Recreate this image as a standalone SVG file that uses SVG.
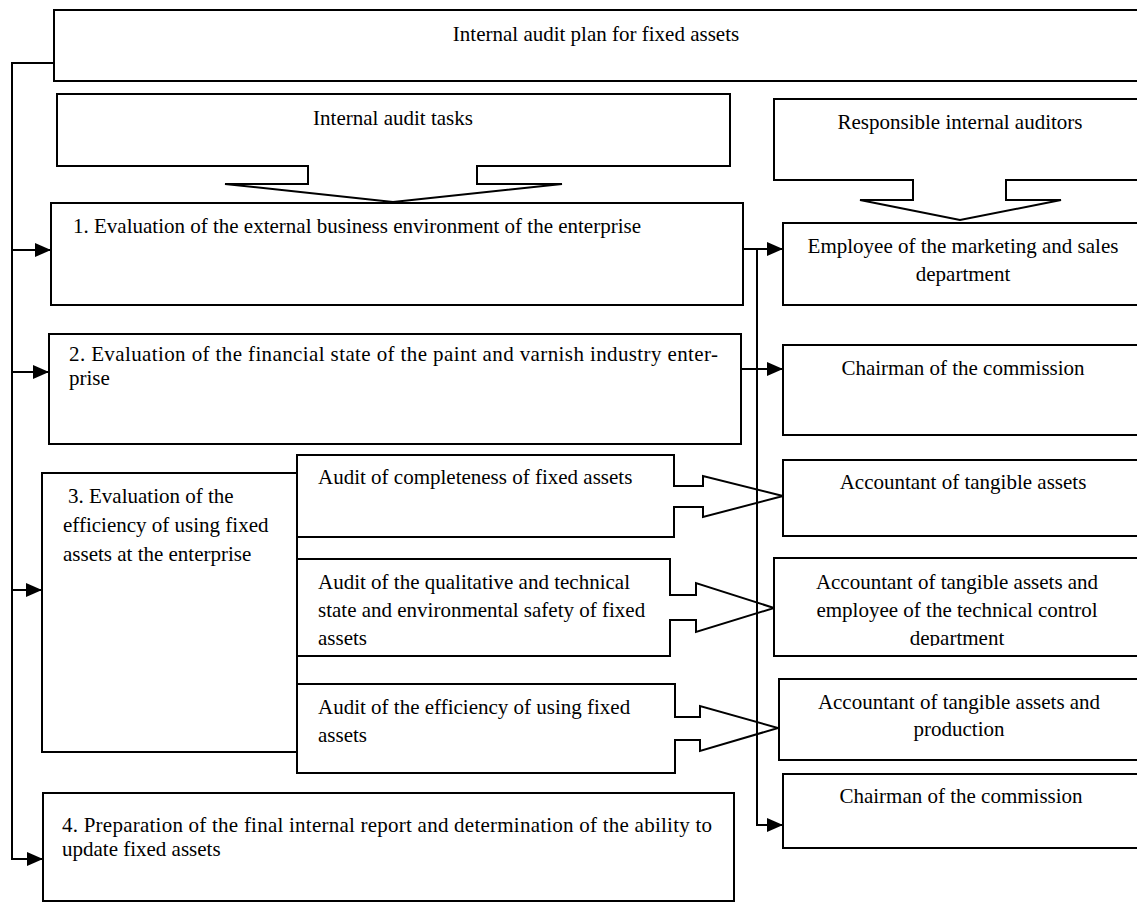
<svg xmlns="http://www.w3.org/2000/svg" width="1137" height="904" viewBox="0 0 1137 904">
<style>
.box{fill:#fff;stroke:#000;stroke-width:2}
.conn{fill:none;stroke:#000;stroke-width:2}
.t{font-family:"Liberation Serif","Times New Roman",serif;font-size:21px;fill:#000}
.c{text-anchor:middle}
</style>
<defs>
<marker id="ah" viewBox="0 0 16 14" refX="16" refY="7" markerWidth="16" markerHeight="14" markerUnits="userSpaceOnUse" orient="auto">
<path d="M0,0 L16,7 L0,14 Z" fill="#000"/>
</marker>
<clipPath id="clipR4"><rect x="774" y="558" width="400" height="88"/></clipPath>
</defs>
<rect width="1137" height="904" fill="#fff"/>
<g id="title">
<rect class="box" x="54" y="10" width="1095" height="71"/>
<text class="t c" x="596" y="41">Internal audit plan for fixed assets</text>
</g>
<g id="tasks">
<path class="box" d="M57,94 H730 V166 H477 V184 H562 L393,202 L225,184 H308 V166 H57 Z"/>
<text class="t c" x="393" y="125">Internal audit tasks</text>
</g>
<g id="responsible">
<path class="box" d="M774,99 H1150 V180 H1006 V200 H1061 L960,220 L860,200 H913 V180 H774 Z"/>
<text class="t c" x="960" y="129">Responsible internal auditors</text>
</g>
<g id="task1">
<rect class="box" x="51" y="203" width="692" height="102"/>
<text class="t" x="73" y="233">1. Evaluation of the external business environment of the enterprise</text>
</g>
<g id="task2">
<rect class="box" x="49" y="334" width="692" height="110"/>
<text class="t" x="69" y="361" textLength="649" lengthAdjust="spacing">2. Evaluation of the financial state of the paint and varnish industry enter-</text>
<text class="t" x="69" y="385">prise</text>
</g>
<g id="task3">
<rect class="box" x="42" y="473" width="255" height="279"/>
<line class="conn" x1="297" y1="455" x2="297" y2="773"/>
<text class="t" x="68" y="503">3. Evaluation of the</text>
<text class="t" x="63" y="532">efficiency of using fixed</text>
<text class="t" x="63" y="561">assets at the enterprise</text>
</g>
<g id="audit1">
<path class="box" d="M297,455 H674 V486 H703 V476 L783,496 L703,517 V507 H674 V537 H297 Z"/>
<text class="t" x="318" y="484">Audit of completeness of fixed assets</text>
</g>
<g id="audit2">
<path class="box" d="M297,559 H670 V595 H696 V583 L774,608 L696,632 V620 H670 V656 H297 Z"/>
<text class="t" x="318" y="589">Audit of the qualitative and technical</text>
<text class="t" x="318" y="617">state and environmental safety of fixed</text>
<text class="t" x="318" y="645">assets</text>
</g>
<g id="audit3">
<path class="box" d="M297,684 H675 V717 H700 V706 L778,728 L700,751 V740 H675 V773 H297 Z"/>
<text class="t" x="318" y="714">Audit of the efficiency of using fixed</text>
<text class="t" x="318" y="742">assets</text>
</g>
<g id="task4">
<rect class="box" x="43" y="793" width="691" height="108"/>
<text class="t" x="62" y="832" textLength="650" lengthAdjust="spacing">4. Preparation of the final internal report and determination of the ability to</text>
<text class="t" x="62" y="856">update fixed assets</text>
</g>
<g id="resp1">
<rect class="box" x="783" y="223" width="370" height="82"/>
<text class="t c" x="963" y="253">Employee of the marketing and sales</text>
<text class="t c" x="963" y="281">department</text>
</g>
<g id="resp2">
<rect class="box" x="783" y="345" width="370" height="90"/>
<text class="t c" x="963" y="375">Chairman of the commission</text>
</g>
<g id="resp3">
<rect class="box" x="783" y="460" width="370" height="76"/>
<text class="t c" x="963" y="489">Accountant of tangible assets</text>
</g>
<g id="resp4">
<rect class="box" x="774" y="558" width="380" height="98"/>
<g clip-path="url(#clipR4)">
<text class="t c" x="957" y="589">Accountant of tangible assets and</text>
<text class="t c" x="957" y="617">employee of the technical control</text>
<text class="t c" x="957" y="645">department</text>
</g>
</g>
<g id="resp5">
<rect class="box" x="779" y="679" width="375" height="81"/>
<text class="t c" x="959" y="709">Accountant of tangible assets and</text>
<text class="t c" x="959" y="736">production</text>
</g>
<g id="resp6">
<rect class="box" x="783" y="774" width="370" height="74"/>
<text class="t c" x="961" y="803">Chairman of the commission</text>
</g>
<g id="connectors">
<path class="conn" d="M54,63 H12 V859 H43" marker-end="url(#ah)"/>
<path class="conn" d="M12,250 H51" marker-end="url(#ah)"/>
<path class="conn" d="M12,372 H49" marker-end="url(#ah)"/>
<path class="conn" d="M12,590 H42" marker-end="url(#ah)"/>
<path class="conn" d="M743,249 H783" marker-end="url(#ah)"/>
<path class="conn" d="M741,369 H783" marker-end="url(#ah)"/>
<path class="conn" d="M757,249 V825 H783" marker-end="url(#ah)"/>
</g>
</svg>
